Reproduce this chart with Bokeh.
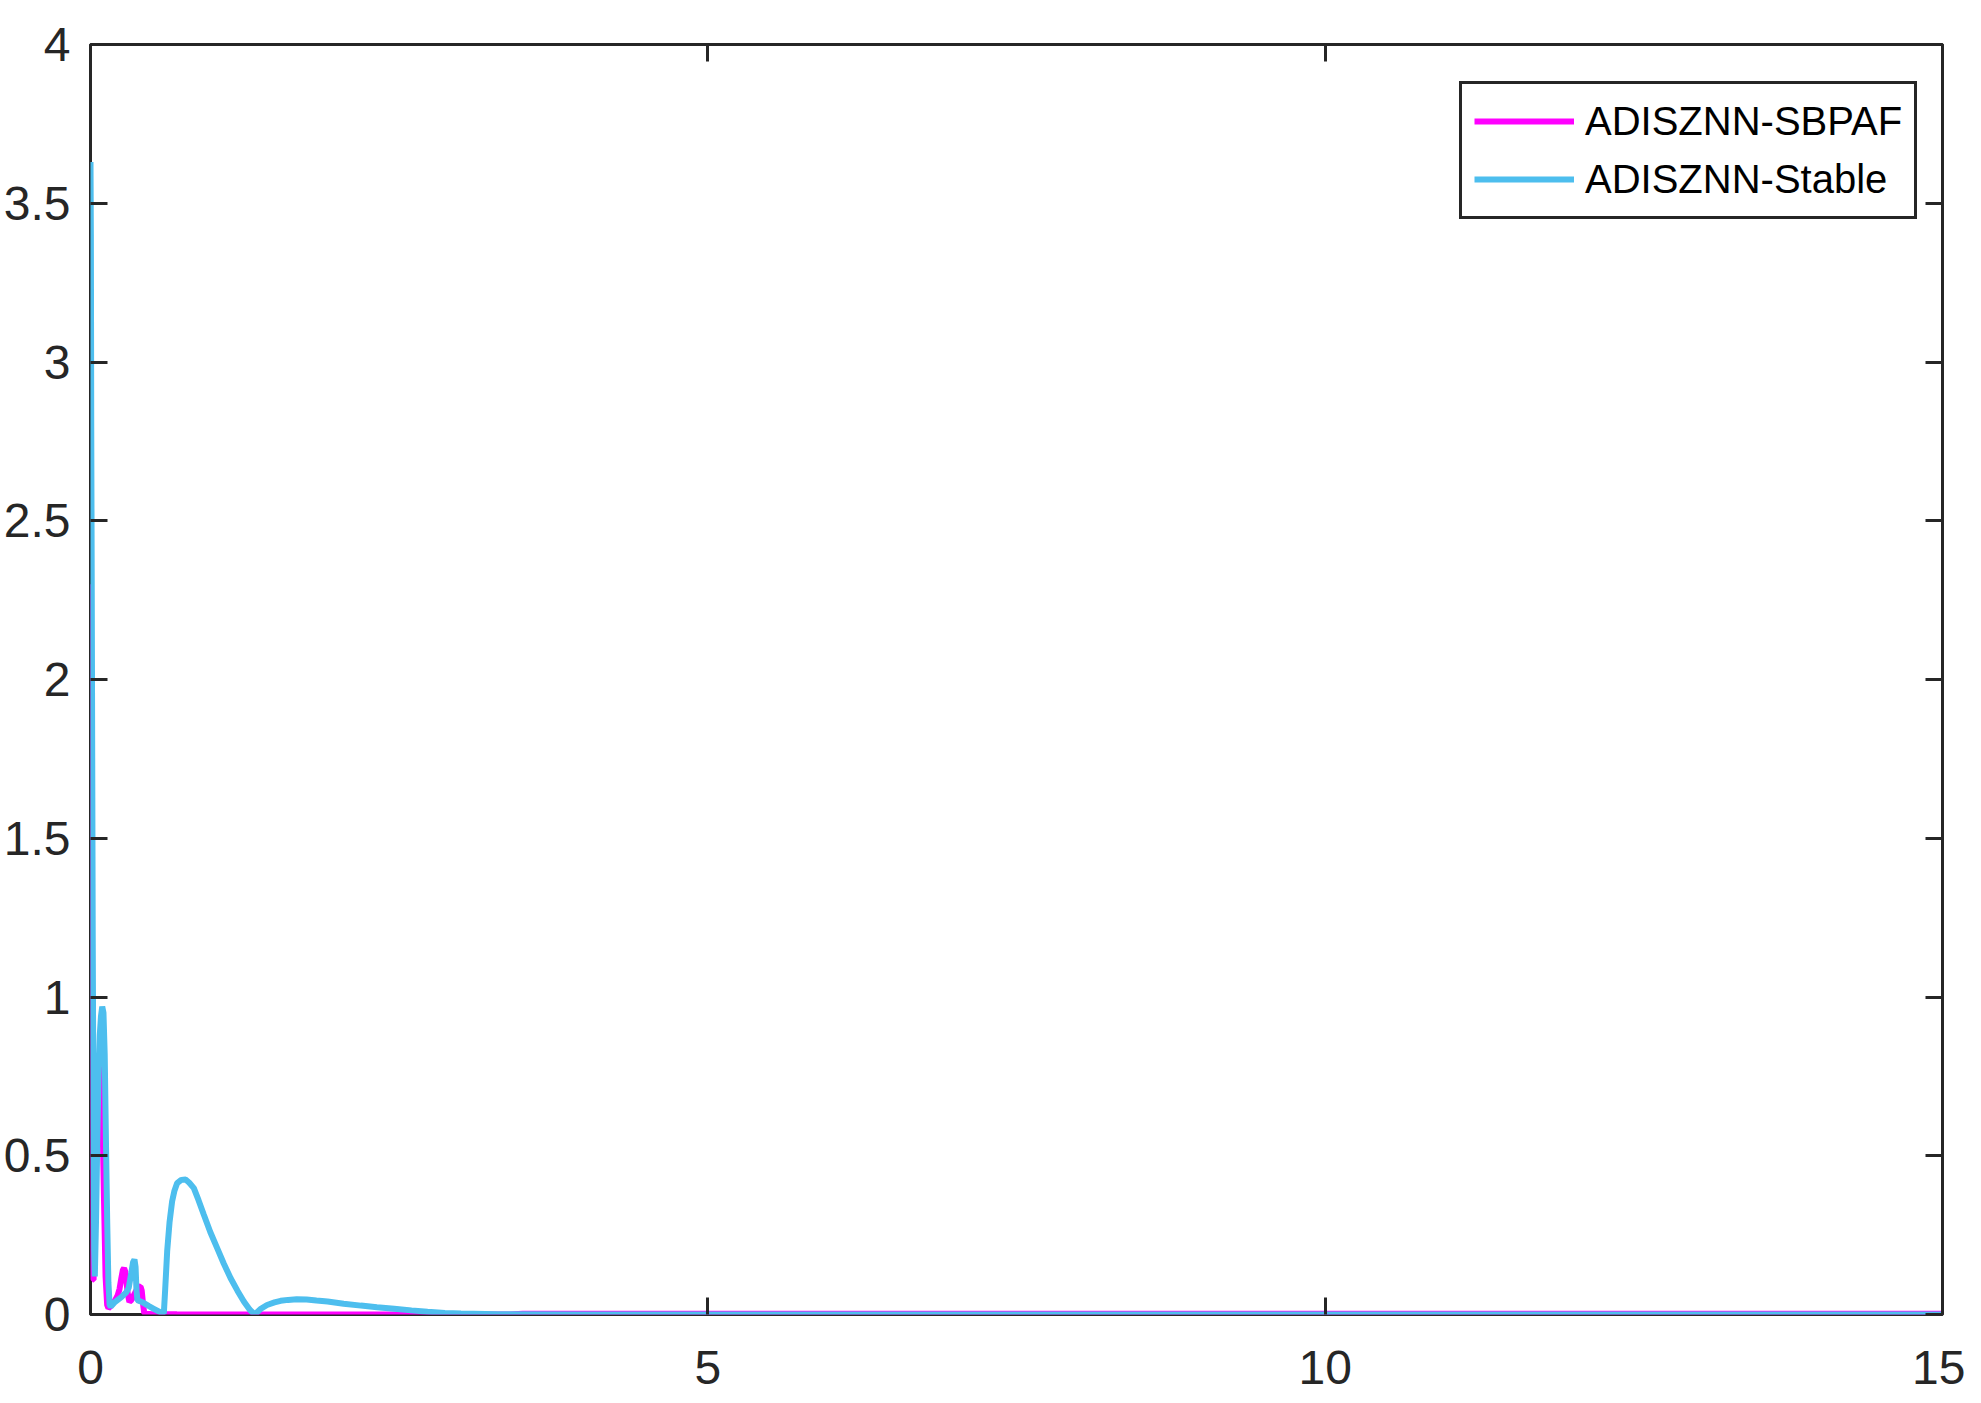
from bokeh.plotting import figure
from bokeh.models import Range1d, LinearAxis, FixedTicker, CustomJSTickFormatter, Legend, LegendItem
from bokeh.embed import file_html
from bokeh.resources import INLINE

# ---- data ----
t_sbpaf = [0.0, 0.004, 0.008, 0.012, 0.016, 0.02, 0.025, 0.035, 0.05, 0.065, 0.078, 0.088,
           0.098, 0.11, 0.122, 0.135, 0.145, 0.16, 0.18, 0.2, 0.22, 0.235, 0.25, 0.262,
           0.272, 0.282, 0.292, 0.302, 0.315, 0.33, 0.35, 0.37, 0.39, 0.405, 0.415, 0.425,
           0.435, 0.45, 0.5, 0.7, 1.0, 1.5, 2.0, 2.5, 3.0, 3.4, 3.5, 4.0, 5.0, 7.5, 10.0,
           12.5, 15.0]
e_sbpaf = [2.30, 1.9, 1.4, 0.9, 0.45, 0.11, 0.11, 0.3, 0.55, 0.72, 0.78, 0.76,
           0.6, 0.35, 0.12, 0.03, 0.02, 0.025, 0.035, 0.045, 0.06, 0.08, 0.115, 0.14,
           0.146, 0.135, 0.1, 0.065, 0.04, 0.045, 0.06, 0.075, 0.087, 0.088, 0.075, 0.035,
           0.005, 0.002, 0.001, 0.0005, 0.0003, 0.0, 0.0, 0.0, 0.0, 0.0, 0.002, 0.002, 0.002,
           0.002, 0.002, 0.002, 0.002]

t_stable = [0.0, 0.003, 0.006, 0.01, 0.014, 0.018, 0.024, 0.03, 0.035, 0.045, 0.055, 0.065,
            0.075, 0.085, 0.095, 0.105, 0.115, 0.125, 0.135, 0.145, 0.155, 0.165, 0.2, 0.25,
            0.29, 0.31, 0.33, 0.345, 0.356, 0.365, 0.372, 0.38, 0.4, 0.432, 0.47, 0.513,
            0.56, 0.594, 0.605, 0.621, 0.64, 0.661, 0.68, 0.702, 0.735, 0.77, 0.8, 0.837,
            0.875, 0.918, 0.97, 1.026, 1.08, 1.134, 1.19, 1.242, 1.29, 1.33, 1.38, 1.43,
            1.49, 1.54, 1.6, 1.67, 1.75, 1.83, 1.92, 2.05, 2.19, 2.32, 2.46, 2.6, 2.73,
            2.87, 3.0, 3.3, 4.0, 15.0]
e_stable = [3.63, 3.4, 2.8, 2.3, 1.75, 1.2, 0.6, 0.2, 0.12, 0.3, 0.55, 0.75,
            0.88, 0.94, 0.97, 0.95, 0.82, 0.55, 0.3, 0.1, 0.03, 0.025, 0.04, 0.055,
            0.07, 0.085, 0.13, 0.165, 0.173, 0.15, 0.08, 0.045, 0.042, 0.036, 0.027, 0.018,
            0.008, 0.004, 0.08, 0.199, 0.29, 0.356, 0.39, 0.414, 0.424, 0.425, 0.415, 0.398,
            0.36, 0.314, 0.26, 0.209, 0.16, 0.115, 0.075, 0.041, 0.015, 0.0, 0.018, 0.03,
            0.038, 0.043, 0.046, 0.048, 0.047, 0.044, 0.041, 0.034, 0.028, 0.023, 0.018, 0.013, 0.009,
            0.005, 0.003, 0.001, 0.0, 0.0]

x_ticks = [0, 5, 10, 15]
y_ticks = [0, 0.5, 1, 1.5, 2, 2.5, 3, 3.5, 4]
series_names = ["ADISZNN-SBPAF", "ADISZNN-Stable"]

FONT = "Liberation Sans"
DARK = "#262626"

p = figure(width=1965, height=1402, output_backend="svg", toolbar_location=None,
           x_range=Range1d(0, 15), y_range=Range1d(0, 4),
           min_border_left=90, min_border_right=23, min_border_top=44, min_border_bottom=88)
p.background_fill_color = "white"
p.border_fill_color = "white"
p.xgrid.visible = False
p.ygrid.visible = False
p.outline_line_color = DARK
p.outline_line_width = 3
p.outline_line_alpha = 1.0

r1 = p.line(t_sbpaf, e_sbpaf, line_color="#FF00FF", line_width=6)
r2 = p.line(t_stable, e_stable, line_color="#4DBEEE", line_width=6)

def style(ax, ticks, labels=True):
    ax.ticker = FixedTicker(ticks=ticks)
    ax.axis_line_color = None
    ax.major_tick_in = 17
    ax.major_tick_out = 0
    ax.major_tick_line_color = DARK
    ax.major_tick_line_width = 3
    ax.minor_tick_line_color = None
    ax.major_label_text_font = FONT
    ax.major_label_text_font_size = "48px"
    ax.major_label_text_color = DARK
    if not labels:
        ax.formatter = CustomJSTickFormatter(code="return '';")
        ax.major_label_text_font_size = "1px"
        ax.major_label_standoff = 0

style(p.xaxis[0], x_ticks)
p.xaxis[0].major_label_standoff = 36
style(p.yaxis[0], y_ticks)
p.yaxis[0].major_label_standoff = 20

top_ax = LinearAxis()
style(top_ax, x_ticks, labels=False)
p.add_layout(top_ax, "above")
right_ax = LinearAxis()
style(right_ax, y_ticks, labels=False)
p.add_layout(right_ax, "right")

legend = Legend(items=[LegendItem(label=series_names[0], renderers=[r1]),
                       LegendItem(label=series_names[1], renderers=[r2])])
legend.margin = 0
legend.location = (1369, 1095)
legend.border_line_color = DARK
legend.border_line_width = 3
legend.border_line_alpha = 1.0
legend.background_fill_color = "white"
legend.label_text_font = FONT
legend.label_text_font_size = "40px"
legend.label_text_color = "black"
legend.glyph_width = 100
legend.glyph_height = 50
legend.label_height = 50
legend.label_standoff = 11
legend.padding = 12
legend.spacing = 8
p.add_layout(legend, "center")

open("out.html", "w").write(file_html(p, INLINE))
